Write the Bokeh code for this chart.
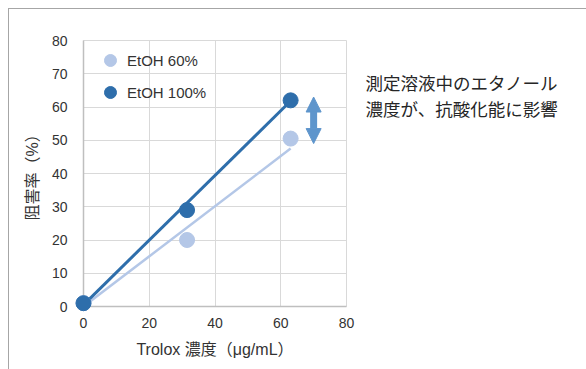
from bokeh.plotting import figure
from bokeh.layouts import row
from bokeh.models import Range1d, Legend, LegendItem, Arrow, NormalHead
from bokeh.core.properties import value
from bokeh.embed import file_html
from bokeh.resources import INLINE

# ---- data ----
trolox = [0, 31.5, 63]            # Trolox concentration (µg/mL)
etoh60 = [1, 20, 50.5]            # inhibition (%) with EtOH 60%
etoh100 = [1, 29, 62]             # inhibition (%) with EtOH 100%
trend60_x = [0, 63]
trend60_y = [0, 47.5]
trend100_x = [0, 63]
trend100_y = [0.5, 61.8]
arrow_x = 70
arrow_span = [49, 63]
x_ticks = [0, 20, 40, 60, 80]
y_ticks = [0, 10, 20, 30, 40, 50, 60, 70, 80]
series_names = ["EtOH 60%", "EtOH 100%"]
note_lines = ["測定溶液中のエタノール", "濃度が、抗酸化能に影響"]
note_y = [67.4, 59.4]             # on the same % scale as the chart
x_label = "Trolox 濃度（μg/mL）"
y_label = "阻害率（%）"

LIGHT = "#b4c7e7"
DARK = "#2e6eab"
ARROW = "#5e95cc"
TXT = "#333333"
LAT = "'Liberation Sans', 'Noto Sans CJK JP'"
CJK = "'Noto Sans CJK JP'"

p = figure(width=347, height=360, x_range=Range1d(0, 80), y_range=Range1d(0, 80),
           output_backend="svg", toolbar_location=None,
           min_border_left=74, min_border_right=10, min_border_top=31, min_border_bottom=63)
p.background_fill_color = "white"
p.border_fill_color = "white"
p.outline_line_color = "#d9d9d9"

for ax, ticks in ((p.xaxis, x_ticks), (p.yaxis, y_ticks)):
    ax.ticker = ticks
    ax.major_tick_line_color = None
    ax.minor_tick_line_color = None
    ax.axis_line_color = "#bfbfbf"
    ax.axis_line_width = 1.5
    ax.major_label_text_font = LAT
    ax.major_label_text_font_size = "14px"
    ax.major_label_text_color = TXT
    ax.axis_label_text_font = LAT
    ax.axis_label_text_font_size = "16px"
    ax.axis_label_text_font_style = "normal"
    ax.axis_label_text_color = TXT

p.xaxis.major_label_standoff = 5
p.yaxis.major_label_standoff = 10
p.xaxis.axis_label = x_label
p.yaxis.axis_label = y_label
p.xaxis.axis_label_standoff = 10
p.yaxis.axis_label_standoff = 8

p.xgrid.ticker = x_ticks
p.ygrid.ticker = y_ticks
p.xgrid.grid_line_color = "#d9d9d9"
p.ygrid.grid_line_color = "#d9d9d9"

p.line(trend60_x, trend60_y, line_color=LIGHT, line_width=2.5)
p.line(trend100_x, trend100_y, line_color=DARK, line_width=3)
s60 = p.scatter(trolox, etoh60, size=15, fill_color=LIGHT, line_color=LIGHT, level="overlay")
s100 = p.scatter(trolox, etoh100, size=15, fill_color=DARK, line_color=DARK, level="overlay")

legend = Legend(items=[LegendItem(label=series_names[0], renderers=[s60]),
                       LegendItem(label=series_names[1], renderers=[s100])],
                location=(12, 199), glyph_width=30, glyph_height=30, spacing=2,
                padding=0, margin=0, label_standoff=2,
                label_text_font=LAT, label_text_font_size="15px", label_text_color=TXT,
                background_fill_alpha=0, border_line_color=None)
p.add_layout(legend)

p.add_layout(Arrow(x_start=arrow_x, y_start=arrow_span[0], x_end=arrow_x, y_end=arrow_span[1],
                   line_color=ARROW, line_width=7,
                   start=NormalHead(size=15, fill_color=ARROW, line_color=ARROW, line_width=1),
                   end=NormalHead(size=15, fill_color=ARROW, line_color=ARROW, line_width=1)))

# note panel: its frame is aligned with the chart's frame, same % scale vertically
q = figure(width=230, height=360, x_range=Range1d(0, 230), y_range=Range1d(0, 80),
           output_backend="svg", toolbar_location=None,
           min_border_left=0, min_border_right=0, min_border_top=0, min_border_bottom=0)
q.axis.visible = False
q.grid.visible = False
q.outline_line_color = None
q.background_fill_color = "white"
q.border_fill_color = "white"
q.text(x=[9, 9], y=note_y, text=note_lines, text_font=value(CJK),
       text_font_size="17.5px", text_baseline="middle", text_align="left", text_color="#262626")

layout = row(p, q, margin=(8, 0, 0, 8),
             styles={"border-top": "1px solid #a6a6a6", "border-left": "1px solid #a6a6a6",
                     "background-color": "white"})

open("out.html", "w").write(file_html(layout, INLINE))
